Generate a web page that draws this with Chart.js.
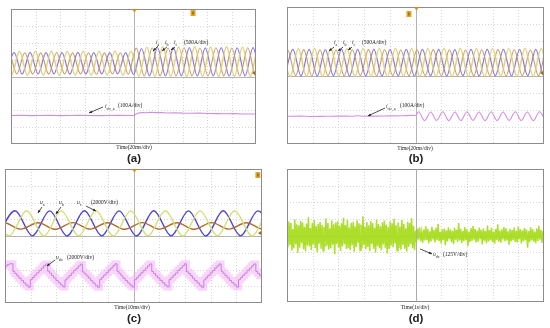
<!DOCTYPE html>
<html><head><meta charset="utf-8">
<script src="https://cdn.jsdelivr.net/npm/chart.js@4.4.1/dist/chart.umd.min.js"></script>
<style>
html,body{margin:0;padding:0;background:#fff;}
#wrap{position:relative;width:550px;height:328px;overflow:hidden;font-family:"Liberation Serif","DejaVu Serif",serif;color:#222;}
canvas{position:absolute;}
.t{position:absolute;font-size:5.5px;line-height:1;white-space:nowrap;}
.t sub{font-size:4px;vertical-align:-1.5px;line-height:0;}
.m{transform:translate(-50%,-50%);}
.p{position:absolute;font-size:11.5px;font-weight:bold;line-height:1;transform:translate(-50%,-50%);font-family:"Liberation Sans",Arial,sans-serif;}
</style></head><body><div id="wrap">
<canvas id="ca" width="245" height="135" style="left:11px;top:9px"></canvas>
<canvas id="cb" width="257" height="137" style="left:287px;top:7px"></canvas>
<canvas id="cc" width="257" height="134" style="left:5px;top:169px"></canvas>
<canvas id="cd" width="257" height="133" style="left:287px;top:169px"></canvas>

<div class="t" style="left:156px;top:40px"><i>i</i><sub>a</sub></div>
<div class="t" style="left:165px;top:40px"><i>i</i><sub>b</sub></div>
<div class="t" style="left:174px;top:40px"><i>i</i><sub>c</sub></div>
<div class="t" style="left:184px;top:40px">(500A/div)</div>
<div class="t" style="left:105px;top:104px"><i>i</i><sub>cir_a</sub></div>
<div class="t" style="left:118px;top:103px">(100A/div)</div>
<div class="t m" style="left:134px;top:148px">Time(20ms/div)</div>
<div class="p" style="left:134px;top:159px">(a)</div>

<div class="t" style="left:334px;top:40px"><i>i</i><sub>a</sub></div>
<div class="t" style="left:343px;top:40px"><i>i</i><sub>b</sub></div>
<div class="t" style="left:352px;top:40px"><i>i</i><sub>c</sub></div>
<div class="t" style="left:362px;top:40px">(500A/div)</div>
<div class="t" style="left:386px;top:104px"><i>i</i><sub>cir_a</sub></div>
<div class="t" style="left:400px;top:103px">(100A/div)</div>
<div class="t m" style="left:415px;top:149px">Time(20ms/div)</div>
<div class="p" style="left:416px;top:159px">(b)</div>

<div class="t" style="left:40px;top:200px"><i>u</i><sub>a</sub></div>
<div class="t" style="left:59px;top:200px"><i>u</i><sub>b</sub></div>
<div class="t" style="left:77px;top:200px"><i>u</i><sub>c</sub></div>
<div class="t" style="left:91px;top:200px">(2000V/div)</div>
<div class="t" style="left:56px;top:255px"><i>u</i><sub>ab</sub></div>
<div class="t" style="left:67px;top:255px">(2000V/div)</div>
<div class="t m" style="left:132px;top:308px">Time(10ms/div)</div>
<div class="p" style="left:134px;top:319px">(c)</div>

<div class="t" style="left:433px;top:252px"><i>u</i><sub>dc</sub></div>
<div class="t" style="left:443px;top:252px">(125V/div)</div>
<div class="t m" style="left:415px;top:308px">Time(1s/div)</div>
<div class="p" style="left:416px;top:319px">(d)</div>
</div>
<script>
// ---------- DATA (values in scope divisions; time in ms / s) ----------
// Panel (a): three-phase currents, extrema every half period
const aHalf = 6.5;
const aPurpleStart = -3.9, aYellowStart = -6.07, aOrangeStart = -8.23;
const aPurple = [0.16,1.42,0.14,1.43,0.15,1.41,0.16,1.42,0.14,1.43,0.15,1.42,0.15,1.41,0.16,1.42,0.12,1.66,0.04,1.72,0.03,1.70,0.04,1.71,0.03,1.70,0.04,1.71,0.03,1.70,0.04,1.71,0.03,1.70];
const aYellow = [1.50,0.08,1.49,0.07,1.50,0.08,1.51,0.07,1.50,0.08,1.49,0.07,1.50,0.08,1.51,0.07,1.50,0.02,1.74,0.00,1.76,0.01,1.75,0.00,1.76,0.01,1.75,0.00,1.76,0.01,1.75,0.00,1.76,0.01];
const aOrange = [0.14,1.40,0.15,1.41,0.13,1.40,0.14,1.42,0.15,1.40,0.14,1.41,0.13,1.40,0.15,1.41,0.14,1.68,0.03,1.70,0.04,1.69,0.03,1.70,0.04,1.69,0.03,1.70,0.04,1.69,0.03,1.70,0.04,1.69];
const aCirT = [0,8,16,24,32,40,48,56,64,72,80,88,96,100,102,104,107,110,114,118,123,128,134,140,147,154,161,168,175,182,189,196,200];
const aCirV = [-2.31,-2.30,-2.32,-2.31,-2.30,-2.32,-2.31,-2.30,-2.31,-2.32,-2.31,-2.30,-2.31,-2.31,-2.24,-2.17,-2.13,-2.15,-2.12,-2.14,-2.13,-2.16,-2.15,-2.17,-2.18,-2.17,-2.19,-2.20,-2.21,-2.20,-2.22,-2.22,-2.22];

// Panel (b)
const bHalf = 6.3;
const bPurpleStart = -1.7, bYellowStart = -3.8, bOrangeStart = -5.9;
const bPurple = [-0.03,1.52,-0.02,1.53,-0.03,1.51,-0.02,1.52,-0.03,1.53,-0.02,1.52,-0.03,1.51,-0.02,1.52,-0.03,1.53,-0.02,1.52,-0.03,1.51,-0.02,1.52,-0.03,1.53,-0.02,1.52,-0.03,1.51,-0.02,1.52,-0.03,1.53,-0.02];
const bYellow = [1.58,-0.06,1.57,-0.05,1.58,-0.06,1.59,-0.05,1.58,-0.06,1.57,-0.05,1.58,-0.06,1.59,-0.05,1.58,-0.06,1.57,-0.05,1.58,-0.06,1.59,-0.05,1.58,-0.06,1.57,-0.05,1.58,-0.06,1.59,-0.05,1.58,-0.06,1.57];
const bOrange = [-0.02,1.50,-0.01,1.51,-0.02,1.50,-0.01,1.49,-0.02,1.50,-0.01,1.51,-0.02,1.50,-0.01,1.49,-0.02,1.50,-0.01,1.51,-0.02,1.50,-0.01,1.49,-0.02,1.50,-0.01,1.51,-0.02,1.50,-0.01,1.49,-0.02,1.50,-0.01];
const bCirT = [0,10,20,30,40,50,55,60,70,80,90,97,100,102.4,107.1,111.8,116.5,121.2,125.9,130.6,135.3,140.0,144.7,149.4,154.1,158.8,163.5,168.2,172.9,177.6,182.3,187.0,191.7,196.4,201.1];
const bCirV = [-2.38,-2.37,-2.39,-2.38,-2.37,-2.38,-2.35,-2.38,-2.37,-2.36,-2.35,-2.33,-2.34,-2.12,-2.63,-2.13,-2.62,-2.12,-2.64,-2.13,-2.63,-2.12,-2.62,-2.13,-2.64,-2.12,-2.63,-2.13,-2.62,-2.12,-2.63,-2.13,-2.64,-2.12,-2.63];

// Panel (c): phase voltages and stepped line voltage
const cHalf = 6.75;
const cBlueStart = -2.85, cYellowStart = -5.1, cBrownStart = -7.35;
const cBlue = [0.00,1.51,0.01,1.50,0.00,1.51,0.01,1.50,0.00,1.51,0.01,1.50,0.00,1.51,0.01,1.50,0.00];
const cYellow = [1.50,0.01,1.51,0.00,1.50,0.01,1.51,0.00,1.50,0.01,1.51,0.00,1.50,0.01,1.51,0.00,1.50,0.01];
const cBrown = [0.40,0.80,0.41,0.79,0.40,0.80,0.41,0.79,0.40,0.80,0.41,0.79,0.40,0.80,0.41,0.79,0.40,0.80];
const cUab = [[0,-1.80],[0.8,-1.72],[1.7,-1.66],
[3.1,-2.12],[3.8,-2.24],[4.6,-2.37],[5.4,-2.52],[6.3,-2.66],[7.2,-2.80],[8.1,-2.93],[9.0,-3.05],
[9.85,-2.60],[10.6,-2.48],[11.4,-2.34],[12.3,-2.20],[13.2,-2.05],[14.1,-1.92],[15.0,-1.78],[15.8,-1.67],
[16.6,-2.10],[17.3,-2.22],[18.1,-2.36],[18.9,-2.50],[19.8,-2.65],[20.7,-2.79],[21.6,-2.92],[22.5,-3.04],
[23.35,-2.62],[24.1,-2.49],[24.9,-2.36],[25.8,-2.21],[26.7,-2.06],[27.6,-1.93],[28.5,-1.79],[29.3,-1.68],
[30.1,-2.14],[30.8,-2.25],[31.6,-2.38],[32.4,-2.51],[33.3,-2.67],[34.2,-2.81],[35.1,-2.94],[36.0,-3.06],
[36.85,-2.59],[37.6,-2.47],[38.4,-2.33],[39.3,-2.19],[40.2,-2.04],[41.1,-1.91],[42.0,-1.77],[42.8,-1.66],
[43.6,-2.11],[44.3,-2.23],[45.1,-2.37],[45.9,-2.52],[46.8,-2.66],[47.7,-2.80],[48.6,-2.93],[49.5,-3.05],
[50.35,-2.61],[51.1,-2.49],[51.9,-2.35],[52.8,-2.20],[53.7,-2.06],[54.6,-1.92],[55.5,-1.78],[56.3,-1.67],
[57.1,-2.12],[57.8,-2.24],[58.6,-2.38],[59.4,-2.51],[60.3,-2.65],[61.2,-2.79],[62.1,-2.93],[63.0,-3.04],
[63.85,-2.60],[64.6,-2.48],[65.4,-2.34],[66.3,-2.21],[67.2,-2.05],[68.1,-1.92],[69.0,-1.78],[69.8,-1.66],
[70.6,-2.13],[71.3,-2.24],[72.1,-2.37],[72.9,-2.52],[73.8,-2.66],[74.7,-2.80],[75.6,-2.94],[76.5,-3.06],
[77.35,-2.62],[78.1,-2.49],[78.9,-2.35],[79.8,-2.20],[80.7,-2.06],[81.6,-1.91],[82.5,-1.78],[83.3,-1.67],
[84.1,-2.11],[84.8,-2.23],[85.6,-2.36],[86.4,-2.50],[87.3,-2.65],[88.2,-2.79],[89.1,-2.92],[90.0,-3.05],
[90.85,-2.61],[91.6,-2.48],[92.4,-2.34],[93.3,-2.21],[94.2,-2.05],[95.1,-1.92],[96.0,-1.78],[96.8,-1.67],
[97.6,-2.12],[98.3,-2.24],[99.1,-2.37],[100,-2.37]];

// Panel (d): dc-link voltage ripple (V, relative to trace centre), before / after
const dBefore = [62,-88,105,-71,93,-112,48,-97,120,-65,84,-130,77,-92,110,-58,99,-104,66,-118,90,-75,138,-83,57,-109,95,-68,116,-94,72,-125,88,-61,102,-99,81,-115,64,-87,127,-79,93,-106,55,-96,112,-70,85,-141,98,-63,107,-90,74,-117,91,-82,133,-66,79,-101,118,-93,60,-108,96,-74,104,-122,69,-89,115,-57,92,-113,83,-97,144,-72,65,-104,101,-86,77,-119,109,-64,94,-100,58,-127,121,-81,87,-95,70,-110,99,-68,113,-91,82,-135,63,-102,106,-77,91,-88,125,-60,76,-114,97,-93,68,-107,117,-71,89,-99,54,-120,103,-84,94,-66,130,-96,73,-111];
const dAfter = [35,-48,52,-30,61,-42,27,-55,44,-38,70,-33,49,-58,31,-45,66,-29,40,-52,57,-36,88,-41,28,-60,47,-34,53,-72,39,-44,62,-27,45,-50,36,-65,58,-31,42,-47,93,-38,51,-56,33,-43,64,-35,46,-80,29,-49,55,-40,71,-32,48,-53,37,-46,60,-28,43,-67,52,-39,34,-58,75,-44,41,-36,57,-51,30,-62,49,-33,85,-47,38,-55,45,-30,63,-42,54,-37,32,-70,50,-45,41,-34,59,-48,36,-52,68,-29,47,-60,39,-43,56,-35,44,-91,33,-50,61,-38,48,-46,30,-57,53,-41,72,-32,43,-54,35,-47];

// ---------- helpers ----------
const ext = (start, half, vals) => vals.map((v, i) => ({x: start + i * half, y: v}));
const pts = (ts, vs) => ts.map((t, i) => ({x: t, y: vs[i]}));
const sine = (data, color, w) => ({data, borderColor: color, borderWidth: w, pointRadius: 0, fill: false, cubicInterpolationMode: 'monotone'});

const scopeDeco = {
  id: 'scopeDeco',
  beforeDatasetsDraw(chart, args, o) {
    const {ctx, chartArea: a, scales: {x, y}} = chart;
    ctx.save();
    ctx.lineWidth = 1;
    ctx.strokeStyle = '#d6d6d6';
    ctx.setLineDash([1, 2]);
    for (let v = x.min + o.xStep; v < x.max - 1e-6; v += o.xStep) {
      const px = Math.round(x.getPixelForValue(v)) + 0.5;
      ctx.beginPath(); ctx.moveTo(px, a.top); ctx.lineTo(px, a.bottom); ctx.stroke();
    }
    for (let v = y.min + o.yStep; v < y.max - 1e-6; v += o.yStep) {
      const py = Math.round(y.getPixelForValue(v)) + 0.5;
      ctx.beginPath(); ctx.moveTo(a.left, py); ctx.lineTo(a.right, py); ctx.stroke();
    }
    ctx.setLineDash([]);
    ctx.strokeStyle = '#b4b4b4';
    const cx = Math.round(x.getPixelForValue((x.min + x.max) / 2)) + 0.5;
    const cy = Math.round(y.getPixelForValue((y.min + y.max) / 2)) + 0.5;
    ctx.beginPath(); ctx.moveTo(cx, a.top); ctx.lineTo(cx, a.bottom); ctx.stroke();
    if (o.hLine !== false) { ctx.beginPath(); ctx.moveTo(a.left, cy); ctx.lineTo(a.right, cy); ctx.stroke(); }
    ctx.restore();
  },
  afterDatasetsDraw(chart, args, o) {
    const {ctx, chartArea: a, scales: {x, y}} = chart;
    ctx.save();
    ctx.strokeStyle = '#8c8c8c'; ctx.lineWidth = 1;
    ctx.strokeRect(a.left + 0.5, a.top + 0.5, a.width - 1, a.height - 1);
    if (o.vOver) {
      const cx = Math.round(x.getPixelForValue((x.min + x.max) / 2)) + 0.5;
      ctx.strokeStyle = 'rgba(170,170,170,0.8)';
      ctx.beginPath(); ctx.moveTo(cx, a.top); ctx.lineTo(cx, a.bottom); ctx.stroke();
    }
    // arrows
    ctx.strokeStyle = '#222'; ctx.fillStyle = '#222'; ctx.lineWidth = 0.8;
    (o.arrows || []).forEach(([x1, y1, x2, y2]) => {
      const p1 = [x.getPixelForValue(x1), y.getPixelForValue(y1)];
      const p2 = [x.getPixelForValue(x2), y.getPixelForValue(y2)];
      const ang = Math.atan2(p2[1] - p1[1], p2[0] - p1[0]);
      ctx.beginPath(); ctx.moveTo(p1[0], p1[1]); ctx.lineTo(p2[0], p2[1]); ctx.stroke();
      const L = 3, W = 1.3;
      ctx.beginPath();
      ctx.moveTo(p2[0], p2[1]);
      ctx.lineTo(p2[0] - L * Math.cos(ang) + W * Math.sin(ang), p2[1] - L * Math.sin(ang) - W * Math.cos(ang));
      ctx.lineTo(p2[0] - L * Math.cos(ang) - W * Math.sin(ang), p2[1] - L * Math.sin(ang) + W * Math.cos(ang));
      ctx.closePath(); ctx.fill();
    });
    // trigger marker
    if (o.trigger) {
      const cx = Math.round(x.getPixelForValue((x.min + x.max) / 2)) + 0.5;
      ctx.fillStyle = '#d98a1a';
      ctx.beginPath(); ctx.moveTo(cx - 2.5, a.top); ctx.lineTo(cx + 2.5, a.top); ctx.lineTo(cx, a.top + 3.5); ctx.closePath(); ctx.fill();
    }
    if (o.ch) {
      const px = x.getPixelForValue(o.ch[0]), py = y.getPixelForValue(o.ch[1]);
      ctx.fillStyle = '#e2a626'; ctx.fillRect(px - 2.5, py - 3, 5, 6);
      ctx.fillStyle = '#6b4a10'; ctx.fillRect(px - 0.5, py - 1.5, 1, 3);
    }
    if (o.ref !== undefined) {
      const py = y.getPixelForValue(o.ref);
      ctx.fillStyle = '#a86a18';
      ctx.beginPath(); ctx.moveTo(a.right - 1, py - 2); ctx.lineTo(a.right - 1, py + 2); ctx.lineTo(a.right - 4, py); ctx.closePath(); ctx.fill();
    }
    ctx.restore();
  }
};

function scope(id, xMax, yMin, yMax, datasets, deco) {
  return new Chart(document.getElementById(id), {
    type: 'line',
    data: {datasets},
    options: {
      responsive: false, animation: false, events: [],
      layout: {padding: 0},
      scales: {
        x: {type: 'linear', display: false, min: 0, max: xMax},
        y: {type: 'linear', display: false, min: yMin, max: yMax}
      },
      plugins: {legend: {display: false}, tooltip: {enabled: false}, scopeDeco: deco}
    },
    plugins: [scopeDeco]
  });
}

// (a)
scope('ca', 200, -4, 4, [
  sine(ext(aYellowStart, aHalf, aYellow), 'rgba(222,205,120,0.9)', 1.5),
  sine(ext(aOrangeStart, aHalf, aOrange), '#c99a62', 1.1),
  sine(ext(aPurpleStart, aHalf, aPurple), '#8678e0', 1.2),
  {data: pts(aCirT, aCirV), borderColor: '#cf8fe0', borderWidth: 1.1, pointRadius: 0, fill: false}
], {xStep: 20, yStep: 1, trigger: true, ch: [148.6, 3.76], ref: 0.21,
    arrows: [[120.0, 1.81, 115.9, 1.51], [127.3, 1.75, 123.3, 1.51], [133.9, 1.75, 130.6, 1.57], [75.1, -1.81, 63.7, -2.16]]});

// (b)
scope('cb', 200, -4, 4, [
  sine(ext(bYellowStart, bHalf, bYellow), 'rgba(222,205,120,0.9)', 1.5),
  sine(ext(bOrangeStart, bHalf, bOrange), '#c99a62', 1.1),
  sine(ext(bPurpleStart, bHalf, bPurple), '#8678e0', 1.2),
  sine(pts(bCirT, bCirV), '#d58fe2', 1.1)
], {xStep: 20, yStep: 1, trigger: true, ch: [94.9, 3.59], ref: 0.15,
    arrows: [[36.6, 1.66, 32.7, 1.43], [43.6, 1.66, 39.7, 1.43], [50.6, 1.66, 47.5, 1.49], [76.3, -1.90, 63.0, -2.36]]});

// (c)
const uab = cUab.map(([t, v]) => ({x: t, y: v}));
scope('cc', 100, -4, 4, [
  sine(ext(cYellowStart, cHalf, cYellow), '#d3df74', 1.4),
  sine(ext(cBrownStart, cHalf, cBrown), '#b06a2c', 1.4),
  sine(ext(cBlueStart, cHalf, cBlue), '#4a44d4', 1.4),
  {data: uab, stepped: true, borderColor: 'rgba(246,172,246,0.5)', borderWidth: 7, pointRadius: 0, fill: false},
  {data: uab, stepped: true, borderColor: '#9058d4', borderWidth: 1, pointRadius: 0, fill: false}
], {xStep: 10, yStep: 1, trigger: true, ch: [98.4, 3.64], ref: 0.18,
    arrows: [[14.4, 1.73, 12.8, 1.37], [21.8, 1.73, 19.8, 1.31], [31.5, 1.79, 35.4, 1.49], [19.5, -1.43, 16.3, -1.79]]});

// (d)
const dData = dBefore.map((v, i) => ({x: i * 5 / dBefore.length, y: v}))
  .concat(dAfter.map((v, i) => ({x: 5 + i * 5 / (dAfter.length - 1), y: v})));
scope('cd', 10, -500, 500, [
  {data: dData, borderColor: 'rgba(168,220,32,0.95)', borderWidth: 1.5, pointRadius: 0, fill: false}
], {xStep: 1, yStep: 125, vOver: true, arrows: [[5.18, -101, 5.64, -139]]});
</script>
</body></html>
